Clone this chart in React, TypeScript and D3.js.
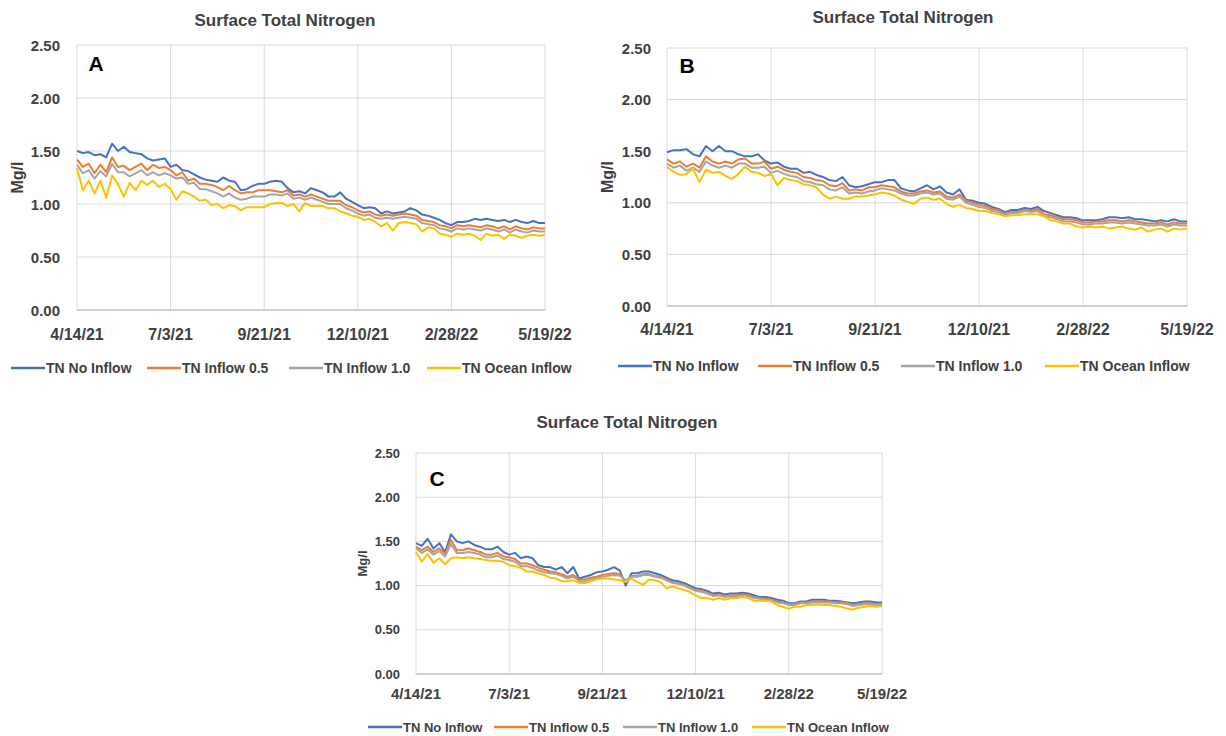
import React, { useEffect, useRef } from 'react';
import * as d3 from 'd3';

// series shared by all three panels
const seriesNames = ['TN No Inflow', 'TN Inflow 0.5', 'TN Inflow 1.0', 'TN Ocean Inflow'];
const seriesColors = ['#4472c4', '#ed7d31', '#a5a5a5', '#ffc000'];
const yTicks = [0, 0.5, 1.0, 1.5, 2.0, 2.5];
const xTickLabels = ['4/14/21', '7/3/21', '9/21/21', '12/10/21', '2/28/22', '5/19/22'];
const sampleDays = d3.range(0, 401, 5); // days after 4/14/21

// Panel A
const aNoInflow = [
  1.50, 1.48, 1.49, 1.46, 1.47, 1.44, 1.57, 1.50, 1.54, 1.49,
  1.48, 1.47, 1.43, 1.41, 1.42, 1.43, 1.35, 1.37, 1.32, 1.31,
  1.28, 1.25, 1.23, 1.22, 1.21, 1.25, 1.22, 1.21, 1.13, 1.14,
  1.17, 1.19, 1.19, 1.21, 1.22, 1.21, 1.15, 1.11, 1.12, 1.10,
  1.15, 1.13, 1.11, 1.07, 1.07, 1.11, 1.05, 1.02, 0.99, 0.96,
  0.97, 0.96, 0.91, 0.93, 0.91, 0.92, 0.93, 0.96, 0.94, 0.90,
  0.89, 0.87, 0.85, 0.82, 0.80, 0.83, 0.83, 0.84, 0.86, 0.85,
  0.86, 0.85, 0.84, 0.85, 0.83, 0.85, 0.83, 0.82, 0.84, 0.82, 0.82,
];
const aInflow05 = [
  1.42, 1.35, 1.38, 1.29, 1.37, 1.30, 1.44, 1.35, 1.36, 1.32,
  1.35, 1.38, 1.32, 1.37, 1.34, 1.35, 1.32, 1.27, 1.30, 1.22,
  1.24, 1.19, 1.19, 1.18, 1.16, 1.13, 1.17, 1.13, 1.10, 1.11,
  1.11, 1.13, 1.13, 1.13, 1.12, 1.11, 1.13, 1.08, 1.09, 1.07,
  1.09, 1.07, 1.05, 1.03, 1.03, 1.03, 0.99, 0.97, 0.94, 0.92,
  0.93, 0.90, 0.89, 0.90, 0.89, 0.90, 0.91, 0.90, 0.89, 0.85,
  0.84, 0.83, 0.80, 0.79, 0.77, 0.80, 0.79, 0.80, 0.79, 0.78,
  0.80, 0.79, 0.77, 0.79, 0.76, 0.79, 0.77, 0.76, 0.78, 0.77, 0.77,
];
const aInflow10 = [
  1.37, 1.29, 1.32, 1.24, 1.31, 1.26, 1.38, 1.30, 1.30, 1.26,
  1.29, 1.32, 1.27, 1.30, 1.27, 1.29, 1.27, 1.24, 1.25, 1.19,
  1.20, 1.14, 1.14, 1.12, 1.10, 1.07, 1.10, 1.06, 1.04, 1.05,
  1.07, 1.07, 1.07, 1.09, 1.09, 1.08, 1.10, 1.05, 1.06, 1.04,
  1.06, 1.04, 1.02, 1.00, 1.00, 1.00, 0.96, 0.94, 0.91, 0.89,
  0.90, 0.87, 0.86, 0.87, 0.86, 0.87, 0.88, 0.87, 0.86, 0.82,
  0.81, 0.80, 0.77, 0.76, 0.74, 0.77, 0.76, 0.77, 0.76, 0.75,
  0.77, 0.76, 0.74, 0.76, 0.73, 0.76, 0.74, 0.73, 0.75, 0.74, 0.74,
];
const aOcean = [
  1.34, 1.13, 1.22, 1.10, 1.22, 1.06, 1.27, 1.19, 1.07, 1.20,
  1.13, 1.22, 1.18, 1.22, 1.16, 1.19, 1.14, 1.04, 1.12, 1.10,
  1.07, 1.03, 1.04, 0.99, 1.00, 0.96, 0.99, 0.98, 0.94, 0.97,
  0.97, 0.97, 0.97, 1.00, 1.01, 1.01, 0.98, 1.00, 0.93, 1.01,
  0.98, 0.98, 0.98, 0.96, 0.96, 0.93, 0.91, 0.89, 0.88, 0.85,
  0.86, 0.83, 0.79, 0.82, 0.75, 0.82, 0.83, 0.82, 0.81, 0.74,
  0.78, 0.77, 0.72, 0.71, 0.69, 0.72, 0.71, 0.72, 0.70, 0.66,
  0.72, 0.70, 0.71, 0.67, 0.71, 0.70, 0.68, 0.70, 0.71, 0.70, 0.71,
];

// Panel B
const bNoInflow = [
  1.49, 1.51, 1.51, 1.52, 1.47, 1.45, 1.55, 1.50, 1.55, 1.50,
  1.50, 1.47, 1.45, 1.45, 1.47, 1.41, 1.38, 1.39, 1.35, 1.33,
  1.33, 1.29, 1.30, 1.27, 1.25, 1.22, 1.21, 1.25, 1.17, 1.15,
  1.16, 1.18, 1.20, 1.20, 1.22, 1.22, 1.14, 1.12, 1.11, 1.14,
  1.17, 1.13, 1.16, 1.10, 1.08, 1.13, 1.03, 1.02, 1.00, 0.99,
  0.96, 0.94, 0.91, 0.93, 0.93, 0.95, 0.94, 0.96, 0.92, 0.90,
  0.88, 0.86, 0.86, 0.85, 0.83, 0.83, 0.83, 0.84, 0.86, 0.86,
  0.85, 0.86, 0.84, 0.84, 0.83, 0.82, 0.83, 0.82, 0.84, 0.82, 0.82,
];
const bInflow05 = [
  1.42, 1.38, 1.40, 1.35, 1.38, 1.34, 1.45, 1.40, 1.38, 1.40,
  1.38, 1.42, 1.43, 1.38, 1.38, 1.40, 1.33, 1.35, 1.32, 1.30,
  1.29, 1.25, 1.24, 1.22, 1.21, 1.17, 1.16, 1.19, 1.12, 1.13,
  1.12, 1.15, 1.15, 1.17, 1.16, 1.15, 1.11, 1.09, 1.09, 1.11,
  1.12, 1.10, 1.11, 1.06, 1.05, 1.08, 1.02, 1.00, 0.98, 0.97,
  0.94, 0.93, 0.89, 0.91, 0.91, 0.93, 0.92, 0.94, 0.89, 0.88,
  0.86, 0.84, 0.84, 0.83, 0.81, 0.81, 0.82, 0.82, 0.83, 0.83,
  0.82, 0.83, 0.82, 0.81, 0.80, 0.80, 0.81, 0.79, 0.81, 0.80, 0.80,
];
const bInflow10 = [
  1.38, 1.34, 1.36, 1.31, 1.34, 1.30, 1.40, 1.36, 1.34, 1.36,
  1.34, 1.38, 1.38, 1.34, 1.34, 1.35, 1.29, 1.31, 1.28, 1.26,
  1.25, 1.21, 1.20, 1.18, 1.17, 1.13, 1.12, 1.15, 1.09, 1.10,
  1.09, 1.11, 1.12, 1.14, 1.13, 1.12, 1.09, 1.07, 1.07, 1.09,
  1.10, 1.08, 1.09, 1.04, 1.03, 1.06, 1.00, 0.98, 0.96, 0.95,
  0.92, 0.91, 0.88, 0.90, 0.90, 0.92, 0.91, 0.92, 0.87, 0.86,
  0.84, 0.82, 0.82, 0.81, 0.79, 0.79, 0.80, 0.80, 0.81, 0.81,
  0.80, 0.81, 0.80, 0.79, 0.78, 0.78, 0.79, 0.77, 0.79, 0.78, 0.78,
];
const bOcean = [
  1.35, 1.30, 1.27, 1.28, 1.33, 1.20, 1.32, 1.29, 1.30, 1.26,
  1.23, 1.28, 1.35, 1.30, 1.29, 1.26, 1.28, 1.17, 1.24, 1.22,
  1.21, 1.18, 1.17, 1.15, 1.08, 1.04, 1.06, 1.04, 1.04, 1.06,
  1.06, 1.07, 1.08, 1.10, 1.09, 1.07, 1.03, 1.01, 0.99, 1.04,
  1.05, 1.03, 1.04, 0.99, 0.96, 0.98, 0.95, 0.94, 0.92, 0.92,
  0.90, 0.89, 0.87, 0.88, 0.88, 0.89, 0.89, 0.89, 0.87, 0.83,
  0.82, 0.80, 0.80, 0.77, 0.76, 0.77, 0.76, 0.77, 0.75, 0.76,
  0.77, 0.75, 0.74, 0.76, 0.72, 0.74, 0.75, 0.72, 0.75, 0.74, 0.75,
];

// Panel C
const cNoInflow = [
  1.48, 1.45, 1.53, 1.42, 1.48, 1.38, 1.58, 1.50, 1.48, 1.50,
  1.46, 1.44, 1.41, 1.41, 1.44, 1.38, 1.35, 1.37, 1.31, 1.33,
  1.31, 1.23, 1.21, 1.21, 1.18, 1.21, 1.14, 1.21, 1.08, 1.10,
  1.12, 1.15, 1.16, 1.18, 1.21, 1.17, 1.00, 1.14, 1.14, 1.16,
  1.16, 1.14, 1.12, 1.09, 1.06, 1.05, 1.03, 1.00, 0.97, 0.96,
  0.94, 0.91, 0.92, 0.90, 0.91, 0.91, 0.92, 0.91, 0.89, 0.87,
  0.87, 0.86, 0.84, 0.83, 0.80, 0.80, 0.82, 0.82, 0.84, 0.84,
  0.84, 0.83, 0.83, 0.82, 0.81, 0.80, 0.81, 0.82, 0.82, 0.81, 0.81,
];
const cInflow05 = [
  1.44, 1.40, 1.44, 1.38, 1.42, 1.36, 1.52, 1.40, 1.40, 1.42,
  1.40, 1.38, 1.35, 1.35, 1.37, 1.33, 1.32, 1.30, 1.25, 1.25,
  1.23, 1.20, 1.18, 1.16, 1.15, 1.13, 1.10, 1.12, 1.07, 1.07,
  1.09, 1.10, 1.12, 1.13, 1.14, 1.13, 1.05, 1.11, 1.11, 1.13,
  1.13, 1.11, 1.10, 1.07, 1.04, 1.03, 1.01, 0.98, 0.95, 0.94,
  0.92, 0.89, 0.90, 0.88, 0.89, 0.89, 0.90, 0.89, 0.87, 0.86,
  0.85, 0.84, 0.82, 0.81, 0.79, 0.79, 0.81, 0.81, 0.82, 0.82,
  0.82, 0.82, 0.81, 0.81, 0.80, 0.78, 0.79, 0.80, 0.80, 0.79, 0.79,
];
const cInflow10 = [
  1.42, 1.37, 1.41, 1.35, 1.39, 1.33, 1.47, 1.37, 1.37, 1.38,
  1.37, 1.35, 1.32, 1.32, 1.34, 1.30, 1.29, 1.27, 1.22, 1.22,
  1.20, 1.17, 1.15, 1.14, 1.13, 1.11, 1.08, 1.10, 1.05, 1.05,
  1.07, 1.08, 1.10, 1.11, 1.12, 1.11, 1.06, 1.10, 1.10, 1.12,
  1.12, 1.10, 1.09, 1.06, 1.03, 1.02, 1.00, 0.97, 0.94, 0.93,
  0.91, 0.88, 0.89, 0.87, 0.88, 0.88, 0.89, 0.88, 0.86, 0.85,
  0.84, 0.83, 0.81, 0.80, 0.78, 0.78, 0.80, 0.80, 0.81, 0.81,
  0.81, 0.81, 0.80, 0.80, 0.79, 0.77, 0.78, 0.79, 0.79, 0.78, 0.78,
];
const cOcean = [
  1.38, 1.27, 1.36, 1.26, 1.31, 1.24, 1.31, 1.32, 1.31, 1.32,
  1.31, 1.30, 1.29, 1.28, 1.28, 1.27, 1.23, 1.22, 1.20, 1.16,
  1.16, 1.14, 1.12, 1.09, 1.08, 1.05, 1.05, 1.06, 1.03, 1.03,
  1.05, 1.07, 1.08, 1.08, 1.07, 1.06, 1.04, 1.08, 1.04, 1.01,
  1.07, 1.06, 1.04, 0.97, 0.99, 0.97, 0.95, 0.93, 0.89, 0.86,
  0.86, 0.84, 0.86, 0.84, 0.86, 0.86, 0.87, 0.86, 0.83, 0.83,
  0.83, 0.82, 0.78, 0.76, 0.74, 0.76, 0.76, 0.78, 0.78, 0.79,
  0.78, 0.78, 0.77, 0.76, 0.74, 0.73, 0.75, 0.76, 0.77, 0.76, 0.77,
];

const FONT = '"Liberation Sans", Arial, sans-serif';
const TEXT = '#404040';

const panels = [
  {
    letter: 'A', series: [aNoInflow, aInflow05, aInflow10, aOcean],
    x0: 77, x1: 545, y0: 45, y1: 310, titleX: 285, titleY: 20, letterX: 96, letterY: 63,
    yLabelX: 17, tickRight: 60, xLabelY: 334, legendY: 368, legendX: [11, 147, 289, 427],
    fsY: 15, fsX: 16, fsLeg: 14, fsMg: 16,
  },
  {
    letter: 'B', series: [bNoInflow, bInflow05, bInflow10, bOcean],
    x0: 667, x1: 1187, y0: 48, y1: 306, titleX: 903, titleY: 17, letterX: 687, letterY: 65,
    yLabelX: 607, tickRight: 651, xLabelY: 329, legendY: 366, legendX: [618, 758, 901, 1045],
    fsY: 15, fsX: 16, fsLeg: 14, fsMg: 16,
  },
  {
    letter: 'C', series: [cNoInflow, cInflow05, cInflow10, cOcean],
    x0: 416, x1: 882, y0: 453, y1: 674, titleX: 627, titleY: 422, letterX: 437, letterY: 478,
    yLabelX: 362, tickRight: 400, xLabelY: 693, legendY: 727, legendX: [368, 494, 623, 752],
    fsY: 13, fsX: 15, fsLeg: 13, fsMg: 13,
  },
];

const App = () => {
  const ref = useRef<SVGSVGElement>(null);

  useEffect(() => {
    const svg = d3.select(ref.current);
    svg.selectAll('*').remove();

    const parseDate = d3.timeParse('%m/%d/%y');
    const start = parseDate(xTickLabels[0])!;
    const dates = sampleDays.map(d => d3.timeDay.offset(start, d));
    const tickDates = xTickLabels.map(s => parseDate(s)!);

    panels.forEach(p => {
      const g = svg.append('g');
      const x = d3.scaleTime()
        .domain([tickDates[0], tickDates[tickDates.length - 1]])
        .range([p.x0, p.x1]);
      const y = d3.scaleLinear().domain([0, 2.5]).range([p.y1, p.y0]);

      // gridlines
      g.selectAll('.hgrid').data(yTicks.slice(1)).enter()
        .append('line')
        .attr('x1', p.x0).attr('x2', p.x1)
        .attr('y1', d => y(d)).attr('y2', d => y(d))
        .attr('stroke', '#d9d9d9').attr('stroke-width', 1);
      g.selectAll('.vgrid').data(tickDates).enter()
        .append('line')
        .attr('x1', d => x(d)).attr('x2', d => x(d))
        .attr('y1', p.y0).attr('y2', p.y1)
        .attr('stroke', '#d9d9d9').attr('stroke-width', 1);
      g.append('line')
        .attr('x1', p.x0).attr('x2', p.x1)
        .attr('y1', y(0)).attr('y2', y(0))
        .attr('stroke', '#bfbfbf').attr('stroke-width', 1.5);

      // tick labels
      g.selectAll('.ytick').data(yTicks).enter()
        .append('text')
        .text(d => d3.format('.2f')(d))
        .attr('x', p.tickRight).attr('y', d => y(d))
        .attr('text-anchor', 'end').attr('dominant-baseline', 'central')
        .attr('font-family', FONT).attr('font-weight', 'bold')
        .attr('font-size', p.fsY).attr('fill', TEXT);
      g.selectAll('.xtick').data(tickDates).enter()
        .append('text')
        .text((d, i) => xTickLabels[i])
        .attr('x', d => x(d)).attr('y', p.xLabelY)
        .attr('text-anchor', 'middle').attr('dominant-baseline', 'central')
        .attr('font-family', FONT).attr('font-weight', 'bold')
        .attr('font-size', p.fsX).attr('fill', TEXT);

      // axis title
      g.append('text')
        .text('Mg/l')
        .attr('transform', `translate(${p.yLabelX}, ${(p.y0 + p.y1) / 2}) rotate(-90)`)
        .attr('text-anchor', 'middle').attr('dominant-baseline', 'central')
        .attr('font-family', FONT).attr('font-weight', 'bold')
        .attr('font-size', p.fsMg).attr('fill', TEXT);

      // chart title
      g.append('text')
        .text('Surface Total Nitrogen')
        .attr('x', p.titleX).attr('y', p.titleY)
        .attr('text-anchor', 'middle').attr('dominant-baseline', 'central')
        .attr('font-family', FONT).attr('font-weight', 'bold')
        .attr('font-size', 17).attr('fill', TEXT);

      // lines
      const line = d3.line<number>()
        .x((d, i) => x(dates[i]))
        .y(d => y(d));
      p.series.forEach((s, i) => {
        g.append('path')
          .datum(s)
          .attr('d', line)
          .attr('fill', 'none')
          .attr('stroke', seriesColors[i])
          .attr('stroke-width', 2)
          .attr('stroke-linejoin', 'round');
      });

      // panel letter
      g.append('text')
        .text(p.letter)
        .attr('x', p.letterX).attr('y', p.letterY)
        .attr('text-anchor', 'middle').attr('dominant-baseline', 'central')
        .attr('font-family', FONT).attr('font-weight', 'bold')
        .attr('font-size', 21).attr('fill', '#000');

      // legend
      seriesNames.forEach((name, i) => {
        const lx = p.legendX[i];
        g.append('line')
          .attr('x1', lx).attr('x2', lx + 34)
          .attr('y1', p.legendY).attr('y2', p.legendY)
          .attr('stroke', seriesColors[i]).attr('stroke-width', 2.5);
        g.append('text')
          .text(name)
          .attr('x', lx + 35).attr('y', p.legendY)
          .attr('dominant-baseline', 'central')
          .attr('font-family', FONT).attr('font-weight', 'bold')
          .attr('font-size', p.fsLeg).attr('fill', TEXT);
      });
    });
  }, []);

  return (
    <div style={{ position: 'absolute', left: 0, top: 0 }}>
      <svg ref={ref} width={1226} height={736} style={{ display: 'block', background: '#fff' }} />
    </div>
  );
};

export default App;
